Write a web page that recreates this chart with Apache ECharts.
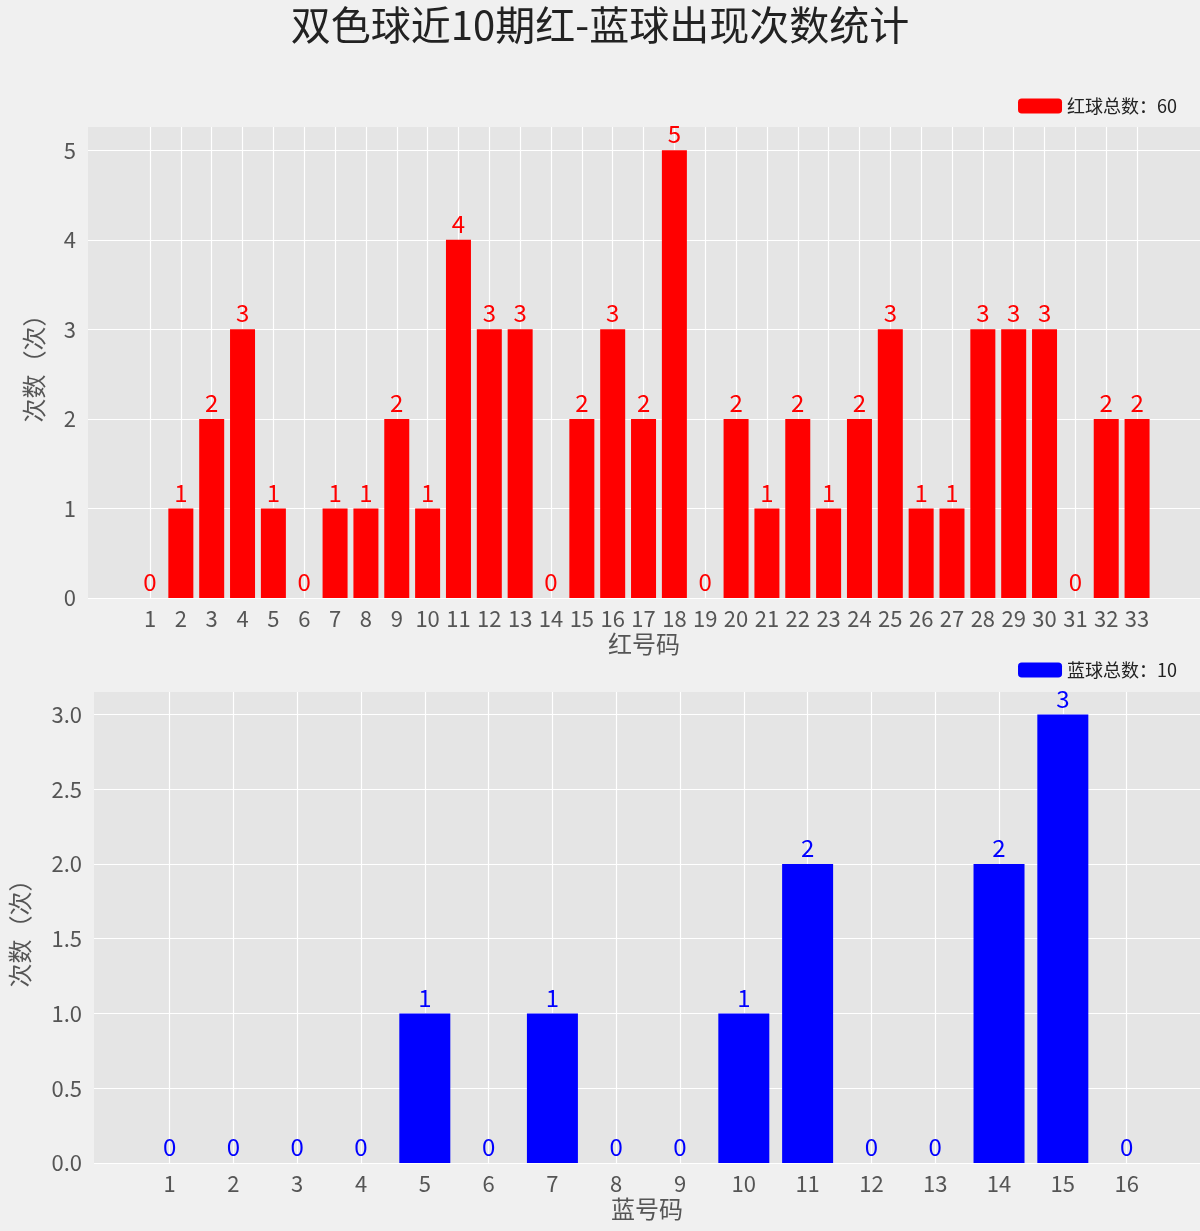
<!DOCTYPE html>
<html><head><meta charset="utf-8">
<script src="https://cdn.jsdelivr.net/npm/echarts@6/dist/echarts.min.js"></script>
<style>html,body{margin:0;padding:0;background:#f0f0f0}#c{width:1200px;height:1231px}</style>
</head><body><div id="c"></div>
<script>
const redNums = Array.from({length:33},(_,i)=>i+1);
const redCounts = [0,1,2,3,1,0,1,1,2,1,4,3,3,0,2,3,2,5,0,2,1,2,1,2,3,1,1,3,3,3,0,2,2];
const blueNums = Array.from({length:16},(_,i)=>i+1);
const blueCounts = [0,0,0,0,1,0,1,0,0,1,2,0,0,2,3,0];
const redTicks = [0,1,2,3,4,5];
const blueTicks = [0,0.5,1,1.5,2,2.5,3];
const F = '"Noto Sans CJK SC", sans-serif';
const chart = echarts.init(document.getElementById('c'));
function xAx(idx, min, max, vals, name){
  return {type:'value', gridIndex:idx, min, max, name, nameLocation:'middle', nameGap:34,
    nameTextStyle:{fontSize:24,color:'#555',fontFamily:F},
    axisLine:{show:false}, axisTick:{show:false, customValues:vals},
    axisLabel:{customValues:vals, fontSize:22, color:'#555', fontFamily:F, margin:10},
    splitLine:{show:true, lineStyle:{color:'#fff', width:1.2}}};
}
function yAx(idx, max, vals, dec){
  return {type:'value', gridIndex:idx, min:0, max, name:'次数（次）', nameLocation:'middle', nameGap:dec?62:42,
    nameTextStyle:{fontSize:24,color:'#555',fontFamily:F},
    axisLine:{show:false}, axisTick:{show:false, customValues:vals},
    axisLabel:{customValues:vals, fontSize:22, color:'#555', fontFamily:F, margin:12,
      formatter:v=>dec?v.toFixed(1):String(v)},
    splitLine:{show:true, lineStyle:{color:'#fff', width:1.2}}};
}
chart.setOption({
  backgroundColor:'#f0f0f0',
  title:{text:'双色球近10期红-蓝球出现次数统计', left:'center', top:0,
    textStyle:{fontSize:40, fontWeight:'normal', color:'#222', fontFamily:F}},
  legend:[
    {data:['红球总数：60'], right:18, top:92, itemWidth:44, itemHeight:15, itemGap:10,
      textStyle:{fontSize:18,color:'#222',fontFamily:F}},
    {data:['蓝球总数：10'], right:18, top:656, itemWidth:44, itemHeight:15,
      textStyle:{fontSize:18,color:'#222',fontFamily:F}}
  ],
  grid:[
    {left:88, right:0, top:127, height:471, show:true, backgroundColor:'#e5e5e5', borderWidth:0},
    {left:88, right:0, top:692, height:471, show:true, backgroundColor:'#e5e5e5', borderWidth:0}
  ],
  xAxis:[xAx(0,-1.01,35.04,redNums,'红号码'), xAx(1,-0.185,17.15,blueNums,'蓝号码')],
  yAxis:[yAx(0,5.26,redTicks,false), yAx(1,3.15,blueTicks,true)],
  series:[
    {name:'红球总数：60', type:'bar', xAxisIndex:0, yAxisIndex:0, barWidth:25,
      itemStyle:{color:'#ff0000'}, data:redNums.map((n,i)=>[n,redCounts[i]]),
      label:{show:true, position:'top', distance:4, color:'#ff0000', fontSize:24, fontFamily:F, formatter:p=>p.value[1]}},
    {name:'蓝球总数：10', type:'bar', xAxisIndex:1, yAxisIndex:1, barWidth:51,
      itemStyle:{color:'#0000ff'}, data:blueNums.map((n,i)=>[n,blueCounts[i]]),
      label:{show:true, position:'top', distance:4, color:'#0000ff', fontSize:24, fontFamily:F, formatter:p=>p.value[1]}}
  ]
});
</script></body></html>
